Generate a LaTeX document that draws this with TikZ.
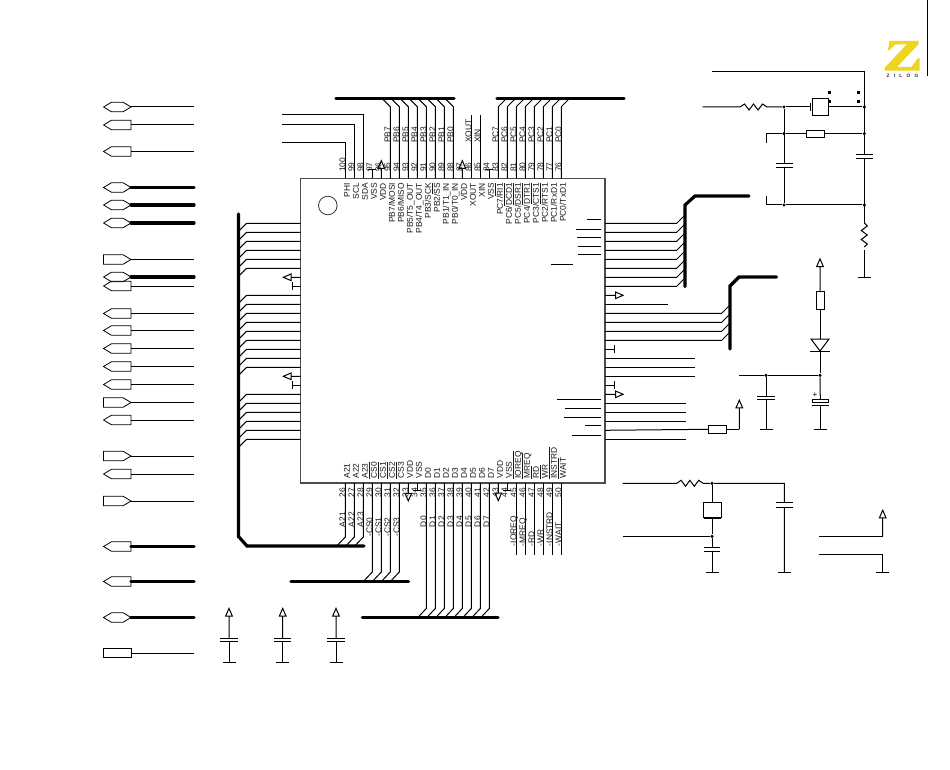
\documentclass[tikz,border=0pt]{standalone}
\usepackage{fontspec}
\setmainfont{Liberation Sans}
\usetikzlibrary{shapes.symbols}
\newcommand\ovl[1]{$\overline{\hbox{#1}}$}
\newcommand\pwrU[2]{\draw[wire] (#1) -- ++(0,-#2) -- ++(-3.3,0) -- ++(3.3,-7.6) -- ++(3.3,7.6) -- ++(-3.3,0);}
\newcommand\pwrD[2]{\draw[wire] (#1) -- ++(0,#2) -- ++(-3.3,0) -- ++(3.3,7.6) -- ++(3.3,-7.6) -- ++(-3.3,0);}
\newcommand\pwrL[2]{\draw[wire] (#1) -- ++(-#2,0) -- ++(0,-3.3) -- ++(-7.6,3.3) -- ++(7.6,3.3) -- ++(0,-3.3);}
\newcommand\pwrR[2]{\draw[wire] (#1) -- ++(#2,0) -- ++(0,-3.3) -- ++(7.6,3.3) -- ++(-7.6,3.3) -- ++(0,-3.3);}
\newcommand\capH[4]{% x, y1, y2 plates; half width
  \draw[wire] (#1-#4,#2) -- (#1+#4,#2) (#1-#4,#3) -- (#1+#4,#3);}
\newcommand\gnd[1]{\draw[wire] ([xshift=-6.5*0.75pt]#1) -- ([xshift=6.5*0.75pt]#1);}
\tikzset{
  x=0.75pt, y=-0.75pt,
  wire/.style={line width=0.75pt, black},
  bus/.style={line width=2.4pt, black, line cap=round},
  chipbox/.style={draw=black!70, line width=0.8pt, rectangle, inner sep=0, outer sep=0},
  sz/.style 2 args={minimum width=#1*0.75pt, minimum height=#2*0.75pt},
  partbox/.style={draw, line width=0.75pt, rectangle, inner sep=0, outer sep=0},
  portbase/.style={draw, line width=0.6pt, inner sep=0, outer sep=0, minimum width=20.6pt, minimum height=7.2pt, signal, signal pointer angle=62, anchor=east},
  portL/.style={portbase, signal to=west},
  portR/.style={portbase, signal to=east},
  portB/.style={portbase, signal to=west and east},
  portN/.style={draw, line width=0.6pt, inner sep=0, outer sep=0, rectangle, minimum width=20.6pt, minimum height=7.2pt, anchor=east},
  txt/.style={font=\fontsize{6.3}{7}\selectfont, inner sep=0, outer sep=0, text=black!90, rotate=90},
  jdot/.style={fill=black, circle, inner sep=0, minimum size=2.6pt},
}
\begin{document}
\begin{tikzpicture}
\useasboundingbox (0,0) rectangle (950,770);
\fill[white] (0,0) rectangle (950,770);
% chip
\node[chipbox, sz={304.5}{304.5}] (chip) at (452.75,330.75) {};
\draw[line width=0.6pt, black!80] (327.8,205.5) circle [radius=9.3];
\foreach \k in {0,...,24}{
  \coordinate (pt\k) at (345.3+9*\k,178.5);
  \coordinate (pb\k) at (345.3+9*\k,483);
  \coordinate (pl\k) at (300.5,223.3+9*\k);
  \coordinate (pr\k) at (605,223.3+9*\k);
}
% left ports
\foreach \n/\s/\y in {a/portB/107,b/portL/125,c/portL/151.5,d/portB/187.5,e/portB/205,f/portB/223,g/portR/259.5,h/portB/277,i/portL/286,
  j/portL/313.5,k/portL/330.5,l/portL/348.5,m/portL/366.5,o/portL/384.5,p/portR/402.5,q/portL/420,r/portR/456,s/portL/474,t/portR/501,
  u/portL/546.5,v/portL/581.5,w/portB/617.5,x/portN/653}{
  \node[\s] (port\n) at (131,\y) {};
  \coordinate (end\n) at (194,\y);
}
\foreach \n in {a,b,c,g,i,j,k,l,m,o,p,q,r,s,t,x}{\draw[wire] (port\n.east) -- (end\n);}
\foreach \n in {d,e,f,h,u,v,w}{\draw[bus] (port\n.east) -- (end\n);}
% left bus and pins
\coordinate (lbA) at (238.5,214);
\coordinate (lbB) at (238.5,536.5);
\coordinate (lbC) at (247,546);
\coordinate (lbD) at (364,546);
\draw[bus] (lbA) -- (lbB) -- (lbC) -- (lbD);
\foreach \k in {0,...,5,8,9,...,16,19,20,...,24}{
  \draw[wire] (pl\k) -- ++(-54,0) -- ++(-7.5,7.5);
}
\pwrL{pl6}{9.5}
\draw[wire] (pl7) -- ++(-8,0) ++(0,-4) -- ++(0,8);
\pwrL{pl17}{9.5}
\draw[wire] (pl18) -- ++(-8,0) ++(0,-4) -- ++(0,8);
% top wires
\coordinate (tw0) at (282,142.7);
\coordinate (tw1) at (282,125);
\coordinate (tw2) at (282,115);
\draw[wire] (pt0) |- (tw0);
\draw[wire] (pt1) |- (tw1);
\draw[wire] (pt2) |- (tw2);
\draw[wire] (pt3) -- ++(0,-9.2) ++(-4,0) -- ++(8,0);
\pwrU{pt4}{10.2}
\foreach \k in {5,...,12}{\draw[wire] (pt\k) -- ++(0,-71.8) -- ++(-8,-8);}
\pwrU{pt13}{10.2}
\draw[wire] (pt14) -- ++(0,-63.5);
\draw[wire] (pt15) -- ++(0,-63.5);
\draw[wire] (pt16) -- ++(0,-9.2) ++(-4,0) -- ++(8,0);
\foreach \k in {17,...,24}{\draw[wire] (pt\k) -- ++(0,-71.8) -- ++(8,-8);}
\coordinate (tbA) at (336,98.3);
\coordinate (tbB) at (454,98.3);
\coordinate (tbC) at (497,98.3);
\coordinate (tbD) at (624,98.3);
\draw[bus] (tbA) -- (tbB);
\draw[bus] (tbC) -- (tbD);
% bottom wires
\foreach \k in {0,1,2}{\draw[wire] (pb\k) -- ++(0,54) -- ++(-8,8.5);}
\foreach \k in {3,...,6}{\draw[wire] (pb\k) -- ++(0,89) -- ++(-8,8.5);}
\pwrD{pb7}{10.3}
\draw[wire] (pb8) -- ++(0,7) ++(-4,0) -- ++(8,0);
\foreach \k in {9,...,16}{\draw[wire] (pb\k) -- ++(0,125.5) -- ++(-8,8.5);}
\pwrD{pb17}{10}
\draw[wire] (pb18) -- ++(0,7) ++(-4,0) -- ++(8,0);
\foreach \k in {19,...,24}{\draw[wire] (pb\k) -- ++(0,72);}
\coordinate (bbA) at (291,581.5);
\coordinate (bbB) at (408.5,581.5);
\coordinate (bbC) at (362.5,617.5);
\coordinate (bbD) at (498,617.5);
\draw[bus] (bbA) -- (bbB);
\draw[bus] (bbC) -- (bbD);
% pin numbers
\foreach \k in {0,...,24}{
  \pgfmathtruncatemacro\numT{100-\k}
  \pgfmathtruncatemacro\numB{26+\k}
  \node[txt, anchor=base west] (nt\k) at ([shift={(0,-6.5)}]pt\k) {\numT};
  \node[txt, anchor=base east] (nb\k) at ([shift={(0,5)}]pb\k) {\numB};
}
% chip labels, top
\foreach \k/\t in {0/PHI,1/SCL,2/SDA,3/VSS,4/VDD,5/{PB7/MOSI},6/{PB6/MISO},7/{PB5/T5\_OUT},8/{PB4/T4\_OUT},9/{PB3/SCK},10/{PB2/\ovl{SS}},11/{PB1/T1\_IN},12/{PB0/T0\_IN},13/VDD,14/XOUT,15/XIN,16/VSS,17/{PC7/\ovl{RI1}},18/{PC6/\ovl{DCD1}},19/{PC5/\ovl{DSR1}},20/{PC4/\ovl{DTR1}},21/{PC3/\ovl{CTS1}},22/{PC2/\ovl{RTS1}},23/{PC1/RxD1},24/{PC0/TxD1}}{
  \node[txt, anchor=base east] (lt\k) at ([shift={(4.5,4.5)}]pt\k) {\t};
}
% chip labels, bottom
\foreach \k/\t in {0/A21,1/A22,2/A23,3/\ovl{CS0},4/\ovl{CS1},5/\ovl{CS2},6/\ovl{CS3},7/VDD,8/VSS,9/D0,10/D1,11/D2,12/D3,13/D4,14/D5,15/D6,16/D7,17/VDD,18/VSS,19/\ovl{IOREQ},20/\ovl{MREQ},21/\ovl{RD},22/\ovl{WR},23/\ovl{INSTRD},24/\ovl{WAIT}}{
  \node[txt, anchor=base west] (lb\k) at ([shift={(4.5,-4.5)}]pb\k) {\t};
}
% net labels
\foreach \k/\t in {5/PB7,6/PB6,7/PB5,8/PB4,9/PB3,10/PB2,11/PB1,12/PB0,14/XOUT,15/XIN,17/PC7,18/PC6,19/PC5,20/PC4,21/PC3,22/PC2,23/PC1,24/PC0}{
  \node[txt, anchor=base west] (wt\k) at ([shift={(0,-35.5)}]pt\k) {\t};
}
\foreach \k/\t in {0/A21,1/A22,2/A23,9/D0,10/D1,11/D2,12/D3,13/D4,14/D5,15/D6,16/D7}{
  \node[txt, anchor=base west] (wb\k) at ([shift={(0,44)}]pb\k) {\t};
}
\foreach \k/\t in {3/-CS0,4/-CS1,5/-CS2,6/-CS3}{
  \node[txt, anchor=base west] (wb\k) at ([shift={(0,53.5)}]pb\k) {\t};
}
\foreach \k/\t in {19/-IOREQ,20/-MREQ,21/-RD,22/-WR,23/-INSTRD,24/-WAIT}{
  \node[txt, anchor=base west] (wb\k) at ([shift={(0,63)}]pb\k) {\t};
}
% right side: leftover overbars
\foreach \a/\b/\y in {587.3/601/220,576.3/601/229.3,577/601/238,577.5/601/246.3,578/601/255,550.7/573/264.3,557/601/399.3,565/601/408.3,564/601/417,585/601/425.3,571.7/601/435.3}{
  \draw[wire] (\a,\y) -- (\b,\y);
}
% right pins
\foreach \k in {0,...,7}{\draw[wire] (pr\k) -- ++(71.7,0) -- ++(7.5,-7.5);}
\coordinate (rbA) at (685,286.6);
\coordinate (rbB) at (685,205);
\coordinate (rbC) at (695,196);
\coordinate (rbD) at (749,196);
\draw[bus] (rbA) -- (rbB) -- (rbC) -- (rbD);
\pwrR{pr8}{10.5}
\draw[wire] (pr9) -- ++(62.7,0);
\foreach \k in {10,...,13}{\draw[wire] (pr\k) -- ++(116.7,0) -- ++(7.5,-7.5);}
\coordinate (rbE) at (730,349);
\coordinate (rbF) at (730,286);
\coordinate (rbG) at (739,277);
\coordinate (rbH) at (776.5,277);
\draw[bus] (rbE) -- (rbF) -- (rbG) -- (rbH);
\draw[wire] (pr14) -- ++(9,0) ++(0,-4) -- ++(0,8);
\foreach \k in {15,16,17}{\draw[wire] (pr\k) -- ++(90,0);}
\draw[wire] (pr18) -- ++(9,0) ++(0,-4) -- ++(0,8);
\pwrR{pr19}{10.5}
\foreach \k in {20,21,22,24}{\draw[wire] (pr\k) -- ++(81,0);}
\node[partbox, sz={18.4}{8}] (r2) at (717.5,429.3) {};
\draw[wire] (pr23) -- (r2.west);
\coordinate (r2up) at (739.3,429.3);
\draw[wire] (r2.east) -- (r2up);
\pwrU{r2up}{21.5}
% net at 375
\coordinate (nA) at (739,375.3);
\node[jdot] (j1) at (766,375.3) {};
\node[jdot] (j2) at (820,375.3) {};
\draw[wire] (nA) -- (j1) -- (j2);
\coordinate (c1g) at (766,429.3);
\draw[wire] (j1) -- (766,396.7) (766,399.7) -- (c1g);
\capH{766}{396.7}{399.7}{9}
\gnd{c1g}
\coordinate (c2g) at (820,429.3);
\node[partbox, sz={16}{3.4}] (c2top) at (820.3,401) {};
\draw[wire] (j2) -- (c2top.north);
\draw[wire] (812,405.3) -- (828.5,405.3);
\draw[wire] (820,405.3) -- (c2g);
\gnd{c2g}
\node[font=\fontsize{6}{6}\selectfont, inner sep=0] (plus) at (815,395) {+};
% diode and resistor
\coordinate (tp) at (820,291);
\node[partbox, sz={8}{18}] (r3) at (820,300) {};
\coordinate (dtop) at (820,339);
\coordinate (dbot) at (820,351);
\draw[wire] (r3.south) -- (dtop);
\draw[wire] (811,339) -- (829,339) -- (820,351) -- cycle;
\draw[wire] (810,351) -- (829.5,351);
\draw[wire] (dbot) -- (j2);
\pwrU{r3.north}{24.5}
% top right network
\coordinate (tA) at (712,71.7);
\coordinate (tB) at (864.3,71.7);
\coordinate (tC) at (864.3,277.3);
\draw[wire] (tA) -- (tB) -- (tC);
\gnd{tC}
\node[jdot] (j3) at (784,107) {};
\node[jdot] (j4) at (864.3,107) {};
\node[jdot] (j5) at (784,133.7) {};
\node[jdot] (j6) at (864.3,133.7) {};
\node[jdot] (j7) at (784,205) {};
\node[jdot] (j8) at (864.3,205) {};
\coordinate (xa) at (702.7,107);
\draw[wire] (xa) -- (740,107) -- ++(4.5,-3) -- ++(4.5,6) -- ++(4.5,-6) -- ++(4.5,6) -- ++(4.5,-6) -- ++(4.5,3) -- (j3);
\node[partbox, sz={15.7}{17.4}] (xt1) at (820.2,107) {};
\draw[wire] (j3) -- (810.5,107);
\draw[line width=1pt] (810.5,103) -- (810.5,111.5);
\draw[wire] (xt1.east) -- (j4);
\foreach \px/\py in {829.3/93,829.3/101.7,858/93,858/101.7}{\fill (\px-1.5,\py-1.5) rectangle (\px+1.5,\py+1.5);}
\draw[wire] (j3) -- (784,163.3) (784,167.3) -- (j7);
\capH{784}{163.3}{167.3}{8.5}
\node[partbox, sz={18.7}{7.3}] (r1) at (815.6,133.7) {};
\coordinate (s1) at (766,143.3);
\coordinate (s2) at (766,195.7);
\draw[wire] (s1) -- (766,133.7) -- (j5) -- (r1.west);
\draw[wire] (r1.east) -- (j6);
\draw[wire] (s2) -- (766,205) -- (j7) -- (j8);
\fill[white] (860,154.3) rectangle (868,158.3);
\capH{864.3}{154.3}{158.3}{8.7}
\fill[white] (860,223) rectangle (868.6,250);
\draw[wire] (864.3,223) -- ++(3,3) -- ++(-6,4.5) -- ++(6,4.5) -- ++(-6,4.5) -- ++(6,4.5) -- ++(-3,3);
% lower right
\coordinate (qA) at (622.7,483.3);
\node[jdot] (j9) at (712,483.3) {};
\coordinate (qB) at (784.3,483.3);
\coordinate (qC) at (784.3,572.7);
\draw[wire] (qA) -- (676.7,483.3) -- ++(4.4,-3) -- ++(4.4,6) -- ++(4.4,-6) -- ++(4.4,6) -- ++(4.4,-6) -- ++(4.4,3) -- (j9) -- (qB) -- (784.3,502.7) (784.3,507.3) -- (qC);
\capH{784.3}{502.7}{507.3}{8.5}
\gnd{qC}
\node[partbox, sz={18.4}{15.4}] (xt2) at (712.5,510) {};
\draw[line width=1.2pt] (704,502.3) -- (721,502.3) (704,517.7) -- (721,517.7);
\node[jdot] (j10) at (712,536.3) {};
\coordinate (qD) at (622.7,536.3);
\coordinate (qE) at (712,572.7);
\draw[wire] (j9) -- (712,502.3) (712,517.7) -- (j10);
\draw[wire] (qD) -- (j10) -- (712,547.7) (712,551.7) -- (qE);
\capH{712}{547.7}{551.7}{8.3}
\gnd{qE}
\coordinate (qF) at (819.3,536.3);
\coordinate (qG) at (882.7,536.3);
\coordinate (qH) at (819.3,554.7);
\coordinate (qI) at (882.7,554.7);
\coordinate (qJ) at (882.7,572.7);
\draw[wire] (qF) -- (qG);
\pwrU{qG}{18.5}
\draw[wire] (qH) -- (qI) -- (qJ);
\gnd{qJ}
% decoupling caps
\foreach \n/\x in {a/229,b/282.7,c/336}{
  \coordinate (cg\n) at (\x,662.3);
  \coordinate (ct\n) at (\x,638);
  \pwrU{ct\n}{22}
  \draw[wire] (\x,641.3) -- (cg\n);
  \capH{\x}{638}{641.3}{8.7}
  \gnd{cg\n}
}
% logo
\draw[line width=0.75pt] (927,0) -- (927,75.7);
\definecolor{zyellow}{RGB}{238,214,32}
\fill[zyellow] (889.5,41) -- (918.7,41) -- (918.7,44) -- (897,67) -- (911.5,67) -- (917.5,58.5) -- (919.5,58.5) -- (919.5,70.7) -- (884.5,70.7) -- (884.5,68) -- (906.5,44.5) -- (895,44.5) -- (889,50.5) -- (888,50.5) -- cycle;
\node[font=\bfseries\fontsize{3.6}{4}\selectfont, inner sep=0, text=black!80] (zilog) at (902.5,75.7) {Z\hspace{3.2pt}I\hspace{3.2pt}L\hspace{3.2pt}O\hspace{3.2pt}G};
\end{tikzpicture}
\end{document}
